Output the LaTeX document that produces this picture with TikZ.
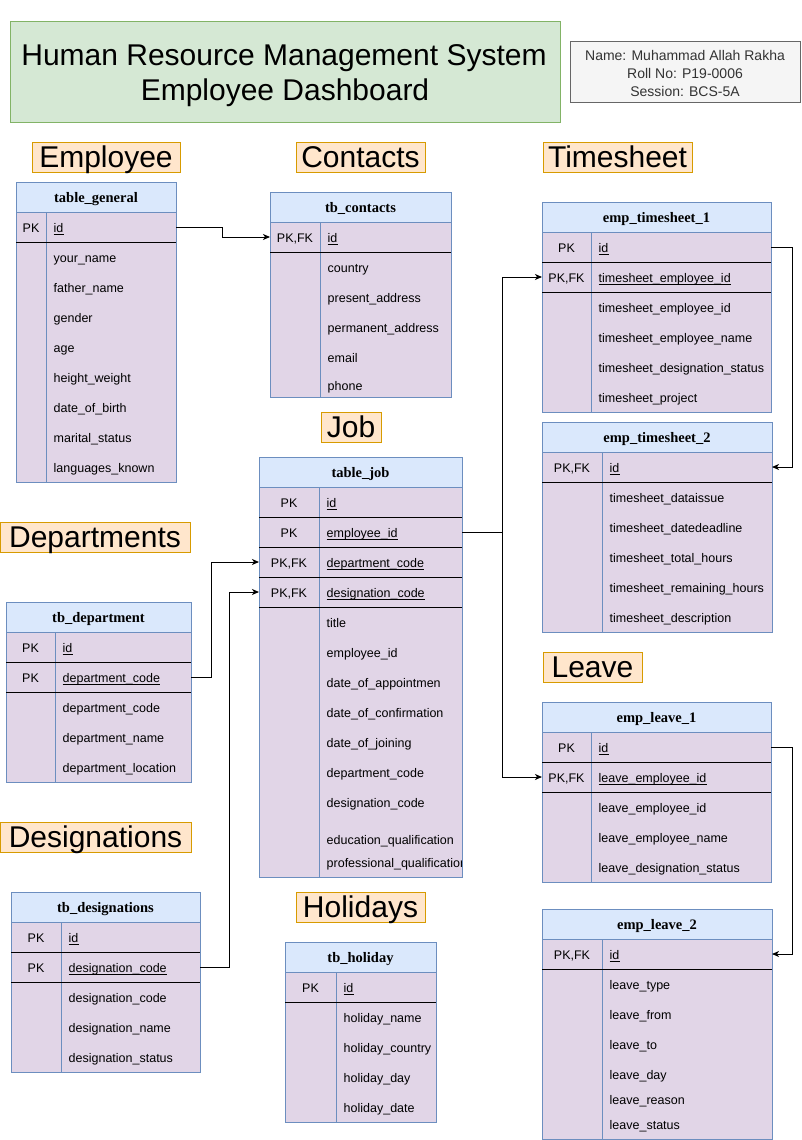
\documentclass[tikz,border=0pt]{standalone}
\usepackage{fontspec}
\setmainfont{Liberation Sans}
\newfontfamily\serifhd{Liberation Serif}
\usetikzlibrary{arrows.meta}
\definecolor{hdrf}{HTML}{DAE8FC}
\definecolor{hdrb}{HTML}{6C8EBF}
\definecolor{bodyf}{HTML}{E1D5E7}
\definecolor{secf}{HTML}{FFE6CC}
\definecolor{secb}{HTML}{D79B00}
\definecolor{ttlf}{HTML}{D5E8D4}
\definecolor{ttlb}{HTML}{82B366}
\definecolor{namef}{HTML}{F5F5F5}
\definecolor{nameb}{HTML}{666666}
\definecolor{namet}{HTML}{333333}
\tikzset{
  hdrbox/.style={draw=hdrb, fill=hdrf, line width=1pt, minimum height=30pt, inner sep=0pt, outer sep=0pt},
  hdrtxt/.style={anchor=base, inner sep=0pt, font=\serifhd\bfseries\fontsize{14.5}{16}\selectfont},
  bodybox/.style={draw=hdrb, fill=bodyf, line width=1pt},
  divline/.style={draw=hdrb, line width=1pt},
  keyline/.style={draw=black, line width=1pt},
  rowbox/.style={inner sep=0pt, outer sep=0pt, minimum height=30pt},
  fld/.style={anchor=base west, inner sep=0pt, font=\fontsize{12.5}{15}\selectfont},
  ulline/.style={draw=black, line width=0.8pt},
  conn/.style={draw=black, line width=1pt, -{Stealth[length=7pt,width=6pt,inset=2pt]}},
  sectbox/.style={draw=secb, fill=secf, line width=1pt, minimum height=30pt, inner sep=0pt, outer sep=0pt},
  secttxt/.style={anchor=base, inner sep=0pt, font=\fontsize{30}{34}\selectfont},
  ttlbox/.style={draw=ttlb, fill=ttlf, line width=1pt, inner sep=0pt, outer sep=0pt},
  ttltxt/.style={anchor=base, inner sep=0pt, font=\fontsize{30}{35}\selectfont},
  namebox/.style={draw=nameb, fill=namef, line width=1pt, inner sep=0pt, outer sep=0pt},
  nametxt/.style={anchor=base, inner sep=0pt, text=namet, font=\fontsize{14}{17}\selectfont},
}
% table: name, x1, x2, xdiv, ytop, ybottom, title
\newcommand{\tbl}[7]{%
  \node[hdrbox, minimum width={#3-#2}, anchor=north west] (#1) at (#2,#5) {};
  \node[hdrtxt] (#1-t) at ({(#2+#3)/2},#5+20.5) {#7};
  \draw[bodybox] (#2,#5+30) rectangle (#3,#6);
  \draw[divline] (#4,#5+30) -- (#4,#6);
}
% key row: name, x1, x2, xdiv, ytop, key, field
\newcommand{\kr}[7]{%
  \node[rowbox, minimum width={#3-#2}, anchor=north west] (#1) at (#2,#5) {};
  \node[fld, anchor=base] (#1-k) at ({(#2+#4)/2},#5+20.5) {#6};
  \node[fld] (#1-f) at (#4+7.5,#5+20.5) {#7};
  \draw[ulline] ([yshift=-2pt]#1-f.base west) -- ([yshift=-2pt]#1-f.base east);
  \draw[keyline] (#2,#5+30) -- (#3,#5+30);
}
% field row: name, xdiv, ycenter, text
\newcommand{\fr}[4]{%
  \node[fld] (#1) at (#2+7.5,#3+5.5) {#4};
}
% section label: name, x1, x2, ytop, text
\newcommand{\sect}[5]{%
  \node[sectbox, minimum width={#3-#2}, anchor=north west] (#1) at (#2,#4) {};
  \node[secttxt] (#1-t) at ({(#2+#3)/2},#4+25) {#5};
}
\begin{document}
\begin{tikzpicture}[x=1pt,y=-1pt]
\useasboundingbox (0,0) rectangle (802,1140);

% title
\node[ttlbox, minimum width=550, minimum height=100, anchor=north west] (title) at (10,22) {};
\node[ttltxt] (title-1) at (284,65.5) {Human Resource Management System};
\node[ttltxt] (title-2) at (285,100.5) {Employee Dashboard};

% name box
\node[namebox, minimum width=230, minimum height=60, anchor=north west] (name) at (570,42) {};
\node[nametxt] (name-1) at (685,60) {Name: Muhammad Allah Rakha};
\node[nametxt] (name-2) at (685,78) {Roll No: P19-0006};
\node[nametxt] (name-3) at (685,96) {Session: BCS-5A};

% section labels
\sect{s-emp}{32}{180}{142}{Employee}
\sect{s-con}{296}{425}{142}{Contacts}
\sect{s-ts}{543}{692}{142}{Timesheet}
\sect{s-job}{321}{381}{412}{Job}
\sect{s-dep}{0}{190}{522}{Departments}
\sect{s-des}{0}{191}{822}{Designations}
\sect{s-hol}{296}{425}{892}{Holidays}
\sect{s-lv}{543}{642}{652}{Leave}

% table_general
\tbl{gen}{16}{176}{46}{182}{482}{table\_general}
\kr{gen-id}{16}{176}{46}{212}{PK}{id}
\fr{gen-f1}{46}{257}{your\_name}
\fr{gen-f2}{46}{287}{father\_name}
\fr{gen-f3}{46}{317}{gender}
\fr{gen-f4}{46}{347}{age}
\fr{gen-f5}{46}{377}{height\_weight}
\fr{gen-f6}{46}{407}{date\_of\_birth}
\fr{gen-f7}{46}{437}{marital\_status}
\fr{gen-f8}{46}{467}{languages\_known}

% tb_contacts
\tbl{con}{270}{451}{320}{192}{397}{tb\_contacts}
\kr{con-id}{270}{451}{320}{222}{PK,FK}{id}
\fr{con-f1}{320}{267}{country}
\fr{con-f2}{320}{297}{present\_address}
\fr{con-f3}{320}{327}{permanent\_address}
\fr{con-f4}{320}{357}{email}
\fr{con-f5}{320}{385}{phone}

% emp_timesheet_1
\tbl{ts1}{542}{771}{591}{202}{412}{emp\_timesheet\_1}
\kr{ts1-id}{542}{771}{591}{232}{PK}{id}
\kr{ts1-emp}{542}{771}{591}{262}{PK,FK}{timesheet\_employee\_id}
\fr{ts1-f1}{591}{307}{timesheet\_employee\_id}
\fr{ts1-f2}{591}{337}{timesheet\_employee\_name}
\fr{ts1-f3}{591}{367}{timesheet\_designation\_status}
\fr{ts1-f4}{591}{397}{timesheet\_project}

% emp_timesheet_2
\tbl{ts2}{542}{772}{602}{422}{632}{emp\_timesheet\_2}
\kr{ts2-id}{542}{772}{602}{452}{PK,FK}{id}
\fr{ts2-f1}{602}{497}{timesheet\_dataissue}
\fr{ts2-f2}{602}{527}{timesheet\_datedeadline}
\fr{ts2-f3}{602}{557}{timesheet\_total\_hours}
\fr{ts2-f4}{602}{587}{timesheet\_remaining\_hours}
\fr{ts2-f5}{602}{617}{timesheet\_description}

% table_job
\tbl{job}{259}{462}{319}{457}{877}{table\_job}
\kr{job-id}{259}{462}{319}{487}{PK}{id}
\kr{job-emp}{259}{462}{319}{517}{PK}{employee\_id}
\kr{job-dep}{259}{462}{319}{547}{PK,FK}{department\_code}
\kr{job-des}{259}{462}{319}{577}{PK,FK}{designation\_code}
\fr{job-f1}{319}{622}{title}
\fr{job-f2}{319}{652}{employee\_id}
\fr{job-f3}{319}{682}{date\_of\_appointmen}
\fr{job-f4}{319}{712}{date\_of\_confirmation}
\fr{job-f5}{319}{742}{date\_of\_joining}
\fr{job-f6}{319}{772}{department\_code}
\fr{job-f7}{319}{802}{designation\_code}
\fr{job-f8}{319}{839}{education\_qualification}
\begin{scope}
\clip (259,820) rectangle (461.5,877);
\fr{job-f9}{319}{862}{professional\_qualification}
\end{scope}

% tb_department
\tbl{dep}{6}{191}{55}{602}{782}{tb\_department}
\kr{dep-id}{6}{191}{55}{632}{PK}{id}
\kr{dep-code}{6}{191}{55}{662}{PK}{department\_code}
\fr{dep-f1}{55}{707}{department\_code}
\fr{dep-f2}{55}{737}{department\_name}
\fr{dep-f3}{55}{767}{department\_location}

% tb_designations
\tbl{des}{11}{200}{61}{892}{1072}{tb\_designations}
\kr{des-id}{11}{200}{61}{922}{PK}{id}
\kr{des-code}{11}{200}{61}{952}{PK}{designation\_code}
\fr{des-f1}{61}{997}{designation\_code}
\fr{des-f2}{61}{1027}{designation\_name}
\fr{des-f3}{61}{1057}{designation\_status}

% tb_holiday
\tbl{hol}{285}{436}{336}{942}{1122}{tb\_holiday}
\kr{hol-id}{285}{436}{336}{972}{PK}{id}
\fr{hol-f1}{336}{1017}{holiday\_name}
\fr{hol-f2}{336}{1047}{holiday\_country}
\fr{hol-f3}{336}{1077}{holiday\_day}
\fr{hol-f4}{336}{1107}{holiday\_date}

% emp_leave_1
\tbl{lv1}{542}{771}{591}{702}{882}{emp\_leave\_1}
\kr{lv1-id}{542}{771}{591}{732}{PK}{id}
\kr{lv1-emp}{542}{771}{591}{762}{PK,FK}{leave\_employee\_id}
\fr{lv1-f1}{591}{807}{leave\_employee\_id}
\fr{lv1-f2}{591}{837}{leave\_employee\_name}
\fr{lv1-f3}{591}{867}{leave\_designation\_status}

% emp_leave_2
\tbl{lv2}{542}{772}{602}{909}{1139}{emp\_leave\_2}
\kr{lv2-id}{542}{772}{602}{939}{PK,FK}{id}
\fr{lv2-f1}{602}{984}{leave\_type}
\fr{lv2-f2}{602}{1014}{leave\_from}
\fr{lv2-f3}{602}{1044}{leave\_to}
\fr{lv2-f4}{602}{1074}{leave\_day}
\fr{lv2-f5}{602}{1099}{leave\_reason}
\fr{lv2-f6}{602}{1124}{leave\_status}

% connectors
\draw[conn] (gen-id.east) -- ++(46,0) |- (con-id.west);
\draw[conn] (dep-code.east) -- ++(20,0) |- (job-dep.west);
\draw[conn] (des-code.east) -- ++(29,0) |- (job-des.west);
\draw[conn] (job-emp.east) -- ++(40,0) |- (ts1-emp.west);
\draw[conn] (job-emp.east) -- ++(40,0) |- (lv1-emp.west);
\draw[conn] (ts1-id.east) -- ++(21,0) |- (ts2-id.east);
\draw[conn] (lv1-id.east) -- ++(21,0) |- (lv2-id.east);
\end{tikzpicture}
\end{document}
